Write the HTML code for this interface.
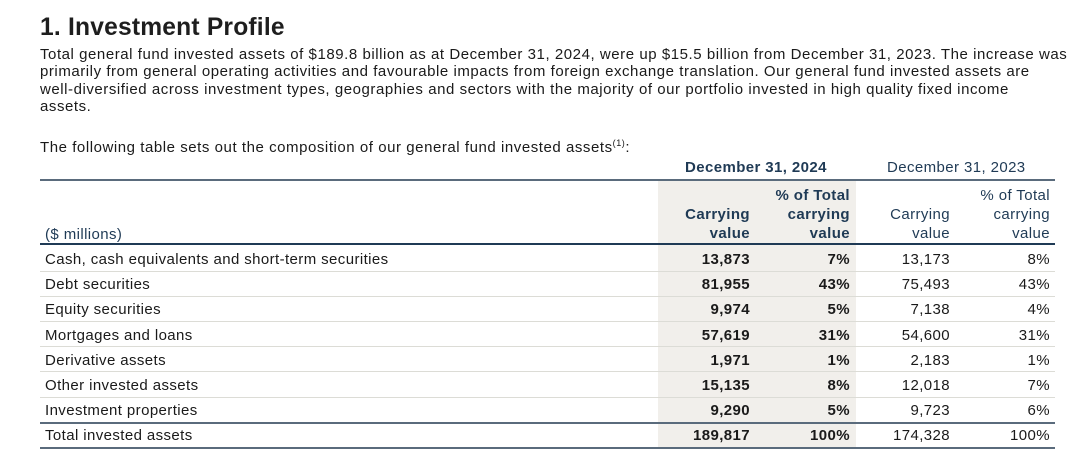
<!DOCTYPE html>
<html><head><style>
body{margin:0;width:1080px;height:466px;background:#fff;font-family:"Liberation Sans",sans-serif;color:#1a1a1a;position:relative;overflow:hidden}
.a{position:absolute;white-space:nowrap}
h1{position:absolute;left:40px;top:14px;margin:0;font-size:24.6px;font-weight:bold;color:#1e1e1e;letter-spacing:0.2px}
.p{left:40px;font-size:15px;line-height:17.4px;letter-spacing:0.55px}
.line{position:absolute;left:40px;width:1015px}
.r{text-align:right}
.hd{color:#1f3a55;font-size:15px;line-height:19px;letter-spacing:0.4px}
.b{font-weight:bold}
.c{font-size:15px;letter-spacing:0.4px}
</style></head><body>
<h1>1. Investment Profile</h1>
<div class="a p" style="top:46px">Total general fund invested assets of $189.8 billion as at December 31, 2024, were up $15.5 billion from December 31, 2023. The increase was<br>primarily from general operating activities and favourable impacts from foreign exchange translation. Our general fund invested assets are<br>well-diversified across investment types, geographies and sectors with the majority of our portfolio invested in high quality fixed income<br>assets.</div>
<div class="a p" style="top:135px">The following table sets out the composition of our general fund invested assets<sup style="font-size:9px">(1)</sup>:</div>
<div class="a" style="left:658px;top:181px;width:198px;height:267px;background:#f1efeb"></div>
<div class="a hd b" style="left:685px;top:158px">December 31, 2024</div>
<div class="a hd" style="left:887px;top:158px">December 31, 2023</div>
<div class="line" style="top:179px;height:1.5px;background:#5a6b7c"></div>
<div class="a hd b r" style="left:650px;width:100px;top:205px">Carrying<br>value</div>
<div class="a hd b r" style="left:750px;width:100px;top:186px">% of Total<br>carrying<br>value</div>
<div class="a hd r" style="left:850px;width:100px;top:205px">Carrying<br>value</div>
<div class="a hd r" style="left:950px;width:100px;top:186px">% of Total<br>carrying<br>value</div>
<div class="a hd" style="left:45px;top:225px">($ millions)</div>
<div class="line" style="top:243px;height:2px;background:#1f3a55"></div>
<div id="rows"></div>
<script>
var d=[["Cash, cash equivalents and short-term securities","13,873","7%","13,173","8%"],["Debt securities","81,955","43%","75,493","43%"],["Equity securities","9,974","5%","7,138","4%"],["Mortgages and loans","57,619","31%","54,600","31%"],["Derivative assets","1,971","1%","2,183","1%"],["Other invested assets","15,135","8%","12,018","7%"],["Investment properties","9,290","5%","9,723","6%"],["Total invested assets","189,817","100%","174,328","100%"]];
var h="";d.forEach(function(r,i){var t=246+i*25.2+5;
h+='<div class="a c" style="left:45px;top:'+t+'px">'+r[0]+'</div>';
h+='<div class="a c r b" style="left:650px;width:100px;top:'+t+'px">'+r[1]+'</div>';
h+='<div class="a c r b" style="left:750px;width:100px;top:'+t+'px">'+r[2]+'</div>';
h+='<div class="a c r" style="left:850px;width:100px;top:'+t+'px">'+r[3]+'</div>';
h+='<div class="a c r" style="left:950px;width:100px;top:'+t+'px">'+r[4]+'</div>';
if(i<6)h+='<div class="line" style="top:'+(246+i*25.2+24.5)+'px;height:1px;background:#dcdcd6"></div>';});
h+='<div class="line" style="top:422px;height:1.5px;background:#5a6b7c"></div>';
h+='<div class="line" style="top:447px;height:1.5px;background:#5a6b7c"></div>';
document.getElementById("rows").innerHTML=h;
</script>
</body></html>
